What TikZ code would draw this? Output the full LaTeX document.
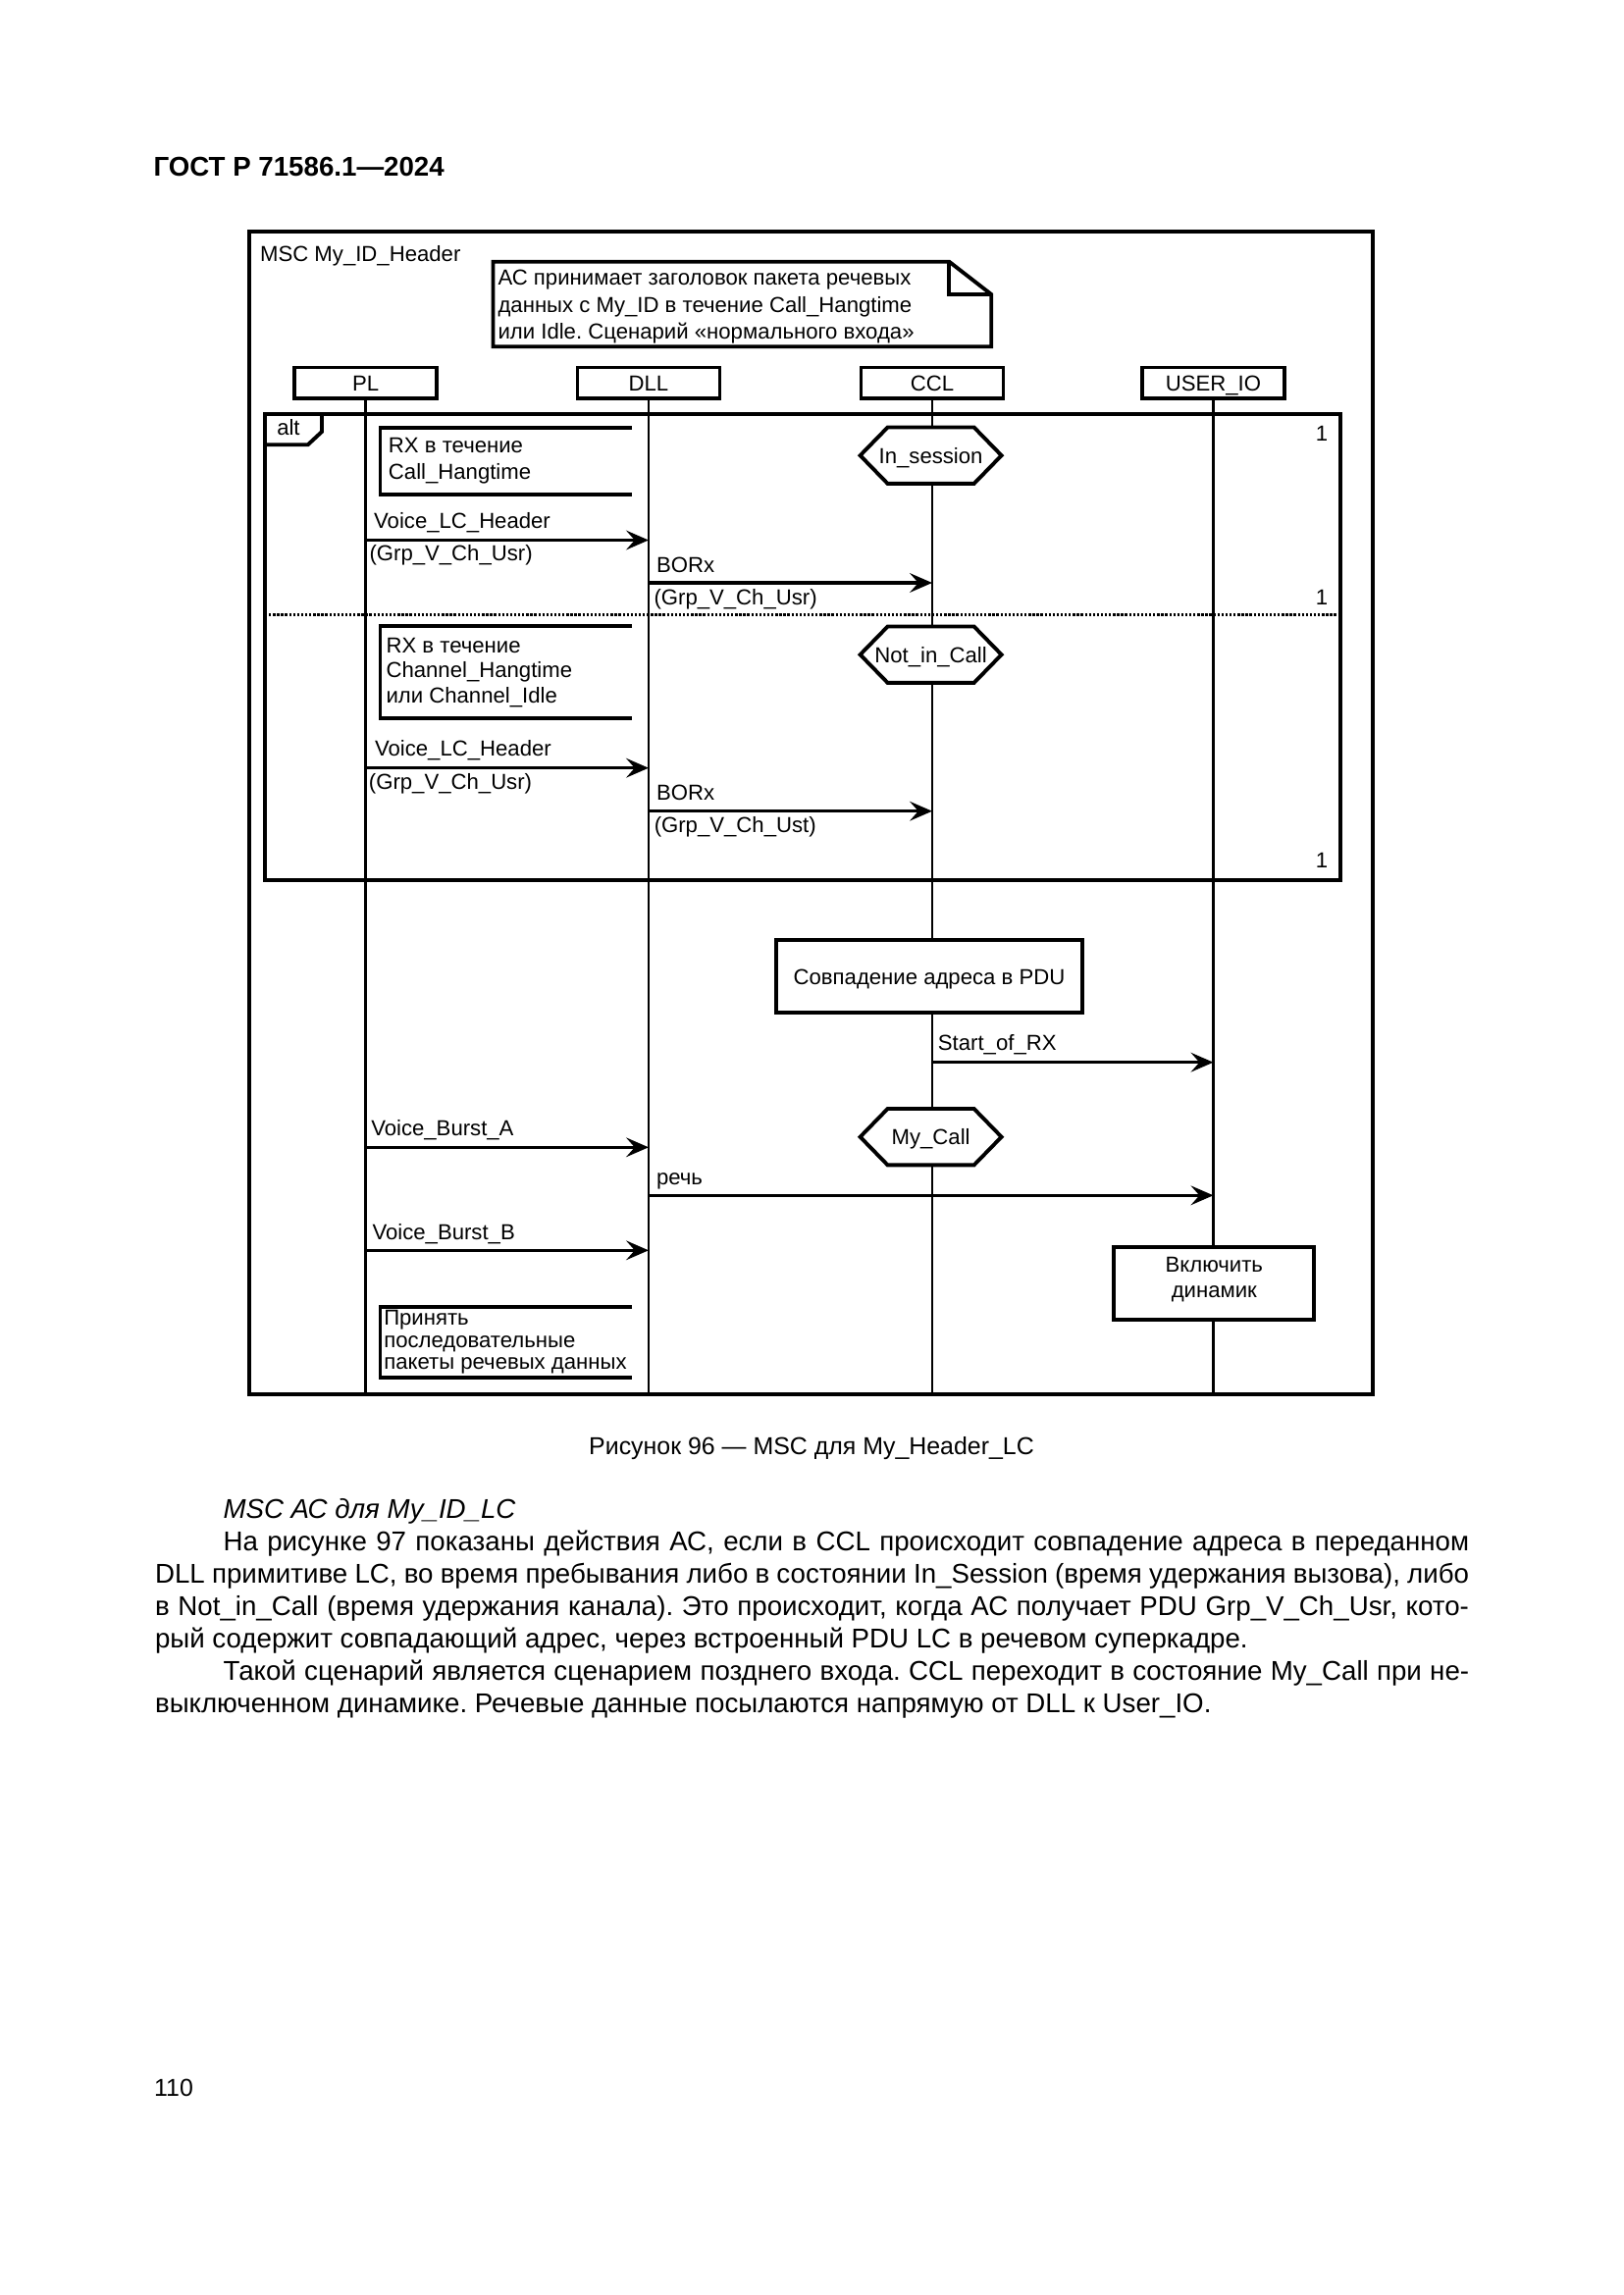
\documentclass[tikz,border=0pt]{standalone}
\usepackage{fontspec}
\setmainfont{Liberation Sans}
\usetikzlibrary{arrows.meta}
\frenchspacing
\newcommand\diagfont{\fontsize{8}{9.6}\selectfont}
\newcommand\bodyfont{\fontsize{10}{12}\selectfont}
\newcommand\hexat[2]{\draw[hexa] (#1-72,#2) -- (#1-44,#2-28.7) -- (#1+44,#2-28.7) -- (#1+72,#2) -- (#1+44,#2+28.7) -- (#1-44,#2+28.7) -- cycle;}
\begin{document}
\begin{tikzpicture}[x=0.126965mm, y=-0.126965mm,
  frame/.style={line width=1.4pt},
  life/.style={line width=0.9pt},
  hexa/.style={line width=1.4pt, fill=white, line join=miter},
  msg/.style={line width=1.15pt, -{Stealth[length=2.9mm,width=2.5mm,inset=1.1mm]}},
  tx/.style={inner sep=0pt, anchor=base west, font=\diagfont},
  txc/.style={inner sep=0pt, anchor=base, font=\diagfont},
  ctr/.style={inner sep=0pt, font=\diagfont, text height=5.8pt, text depth=0pt},
  headbox/.style={draw, line width=1.4pt, minimum width=18.4mm, minimum height=4.0mm, inner sep=0pt, font=\diagfont, text height=5.8pt, text depth=0pt, fill=white},
  actbox/.style={draw, line width=1.4pt, fill=white, inner sep=0pt},
  bt/.style={inner sep=0pt, anchor=base west, font=\bodyfont}
]
\fill[white] (0,0) rectangle (1654,2339);
\useasboundingbox (0,0) rectangle (1654,2339);

% page header
\node[inner sep=0pt, anchor=base west, font=\fontsize{10}{12}\selectfont\bfseries] (hdr) at (156,180) {ГОСТ Р 71586.1—2024};

% outer frame
\draw[frame] (254,236) rectangle (1399,1420.7);
\node[tx] (mscname) at (264.6,266.7) {MSC My\_ID\_Header};

% note
\draw[frame, fill=white] (502.5,266.7) -- (967.3,266.7) -- (1010.2,300) -- (1010.2,353.3) -- (502.5,353.3) -- cycle;
\draw[frame] (967.3,266.7) -- (967.3,300) -- (1010.2,300);
\node[tx] (n1) at (507,290.5) {АС принимает заголовок пакета речевых};
\node[tx] (n2) at (507,318) {данных с My\_ID в течение Call\_Hangtime};
\node[tx] (n3) at (507,345.3) {или Idle. Сценарий «нормального входа»};

% instance heads
\node[headbox] (PL) at (372.6,390.3) {PL};
\node[headbox] (DLL) at (661,390.3) {DLL};
\node[headbox] (CCL) at (950,390.3) {CCL};
\node[headbox] (UIO) at (1236.5,390.3) {USER\_IO};

% lifelines
\coordinate (PLe) at (372.6,1420.7);
\coordinate (DLLe) at (661,1420.7);
\coordinate (CCLe) at (950,1420.7);
\coordinate (UIOe) at (1236.5,1420.7);
\draw[life] (PL.south) -- (PLe);
\draw[life] (DLL.south) -- (DLLe);
\draw[life] (CCL.south) -- (CCLe);
\draw[life] (UIO.south) -- (UIOe);

% alt frame
\draw[frame] (270,421.7) rectangle (1366.3,896.7);
\draw[frame] (270,453.3) -- (313.7,453.3) -- (328,440) -- (328,421.7);
\node[tx] (alt) at (281.7,443.3) {alt};
\node[txc] (one1) at (1347,449.7) {1};
\node[txc] (one2) at (1347,616.3) {1};
\node[txc] (one3) at (1347,884.7) {1};
\draw[line width=1.2pt, dash pattern=on 0.3mm off 0.22mm] (270,626.3) -- (1366.3,626.3);

% comment brackets
\draw[frame] (644,436) -- (387.5,436) -- (387.5,504) -- (644,504);
\node[tx] (c1a) at (395.4,461.7) {RX в течение};
\node[tx] (c1b) at (395.4,488.3) {Call\_Hangtime};
\draw[frame] (644,638.3) -- (387.5,638.3) -- (387.5,732.3) -- (644,732.3);
\node[tx] (c2a) at (393,665) {RX в течение};
\node[tx] (c2b) at (393,690.7) {Channel\_Hangtime};
\node[tx] (c2c) at (393,716.7) {или Channel\_Idle};
\draw[frame] (644,1331.7) -- (387.5,1331.7) -- (387.5,1404) -- (644,1404);
\node[tx] (c3a) at (390.7,1350.7) {Принять};
\node[tx] (c3b) at (390.7,1373.3) {последовательные};
\node[tx] (c3c) at (390.7,1395) {пакеты речевых данных};

% states
\hexat{948.6}{464.2}
\node[ctr] (sIns) at (948.6,464.2) {In\_session};
\hexat{948.6}{667.2}
\node[ctr] (sNot) at (948.6,667.2) {Not\_in\_Call};
\hexat{948.6}{1158.7}
\node[ctr] (sMy) at (948.6,1158.7) {My\_Call};

% messages
\coordinate (y1) at (0,550.5);
\coordinate (y2) at (0,594);
\coordinate (y3) at (0,782.7);
\coordinate (y4) at (0,826.7);
\coordinate (y5) at (0,1082.7);
\coordinate (y6) at (0,1169.3);
\coordinate (y7) at (0,1218.3);
\coordinate (y8) at (0,1274.3);
\draw[msg] (PL |- y1) -- (DLL |- y1);
\node[tx] (m1a) at (380.6,538.3) {Voice\_LC\_Header};
\node[tx] (m1b) at (376,571.7) {(Grp\_V\_Ch\_Usr)};
\draw[msg] (DLL |- y2) -- (CCL |- y2);
\node[tx] (m2a) at (668.6,583.3) {BORx};
\node[tx] (m2b) at (666,616.7) {(Grp\_V\_Ch\_Usr)};
\draw[msg] (PL |- y3) -- (DLL |- y3);
\node[tx] (m3a) at (381.5,770.7) {Voice\_LC\_Header};
\node[tx] (m3b) at (375.4,804) {(Grp\_V\_Ch\_Usr)};
\draw[msg] (DLL |- y4) -- (CCL |- y4);
\node[tx] (m4a) at (668.5,815) {BORx};
\node[tx] (m4b) at (666.2,848.3) {(Grp\_V\_Ch\_Ust)};

% action: address match
\draw[actbox] (791,958.3) rectangle (1103,1031.7);
\node[ctr] (act1) at (947,995) {Совпадение адреса в PDU};

\draw[msg] (CCL |- y5) -- (UIO |- y5);
\node[tx] (m5) at (955.4,1070) {Start\_of\_RX};
\draw[msg] (PL |- y6) -- (DLL |- y6);
\node[tx] (m6) at (377.7,1157.7) {Voice\_Burst\_A};
\draw[msg] (DLL |- y7) -- (UIO |- y7);
\node[tx] (m7) at (668.5,1207.5) {речь};
\draw[msg] (PL |- y8) -- (DLL |- y8);
\node[tx] (m8) at (379,1263.3) {Voice\_Burst\_B};

% action: speaker on
\draw[actbox] (1135.2,1270.7) rectangle (1339.4,1345);
\node[txc] (act2a) at (1237.3,1296.7) {Включить};
\node[txc] (act2b) at (1237.3,1322.7) {динамик};

% caption
\node[inner sep=0pt, anchor=base, font=\fontsize{9}{11}\selectfont] (cap) at (827,1482.7) {Рисунок 96 — MSC для My\_Header\_LC};

% body text
\node[bt, font=\bodyfont\itshape] (b0) at (227,1547.3) {MSC АС для My\_ID\_LC};
\node[bt] (b1) at (227,1580.3) {\makebox[161.2mm][s]{На рисунке 97 показаны действия АС, если в CCL происходит совпадение адреса в переданном}};
\node[bt] (b2) at (157.5,1613.2) {\makebox[170mm][s]{DLL примитиве LC, во время пребывания либо в состоянии In\_Session (время удержания вызова), либо}};
\node[bt] (b3) at (157.5,1646.2) {\makebox[170mm][s]{в Not\_in\_Call (время удержания канала). Это происходит, когда АС получает PDU Grp\_V\_Ch\_Usr, кото-}};
\node[bt] (b4) at (157.5,1679.1) {рый содержит совпадающий адрес, через встроенный PDU LC в речевом суперкадре.};
\node[bt] (b5) at (227,1712.1) {\makebox[161.2mm][s]{Такой сценарий является сценарием позднего входа. CCL переходит в состояние My\_Call при не-}};
\node[bt] (b6) at (157.5,1745) {выключенном динамике. Речевые данные посылаются напрямую от DLL к User\_IO.};

% page number
\node[inner sep=0pt, anchor=base west, font=\fontsize{9}{11}\selectfont] (pg) at (156.6,2136) {110};
\end{tikzpicture}
\end{document}
